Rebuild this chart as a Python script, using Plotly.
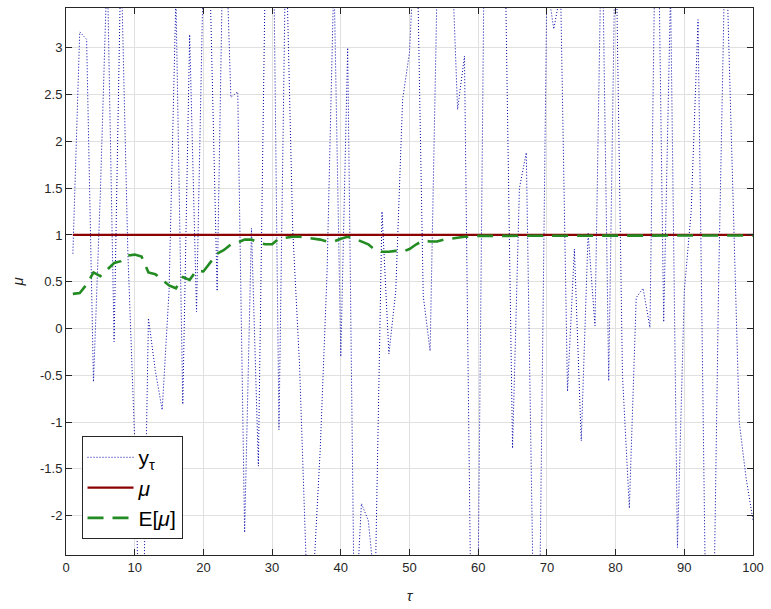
import plotly.graph_objects as go

tau = list(range(1, 101))

y_obs = [
    0.8, 3.17, 3.09, -0.57, 1.45, 3.9, -0.14, 4.0, 0.82, -1.2,
    -4.2, 0.11, -0.45, -0.87, 0.4, 3.55, -0.81, 3.14, 0.18, 3.9,
    3.6, 0.4, 4.8, 2.47, 2.53, -2.18, 1.07, -1.47, 3.8, 5.5,
    -1.08, 4.2, 1.06, -0.4, -2.6, -2.7, -1.3, 0.6, 3.8, -0.3,
    3.0, -3.3, -1.87, -2.05, -2.8, 1.25, -0.27, 0.4, 2.45, 2.95,
    4.5, 0.35, -0.24, 3.6, 4.6, 4.3, 2.34, 2.91, -3.4, -2.6,
    5.0, 4.5, 4.0, 3.6, -1.28, 1.5, 1.88, -2.8, -2.6, 3.7,
    3.2, 3.6, -0.67, 0.85, -1.2, 1.02, 0.03, 4.5, -0.56, 4.4,
    -0.5, -1.92, 0.33, 0.43, 0.01, 5.5, 0.07, 3.6, -2.34, 0.4,
    1.25, 3.3, -2.38, -4.5, 0.5, 4.3, 1.6, -1.0, -1.6, -2.05,
]

mu_true = [1.0] * 100

e_mu = [
    0.37, 0.38, 0.47, 0.6, 0.56, 0.63, 0.7, 0.72, 0.78, 0.79,
    0.77, 0.6, 0.58, 0.52, 0.46, 0.43, 0.55, 0.52, 0.62, 0.61,
    0.7, 0.8, 0.84, 0.9, 0.92, 0.95, 0.95, 0.92, 0.9, 0.9,
    0.96, 0.97, 0.98, 0.98, 0.97, 0.96, 0.95, 0.93, 0.93, 0.96,
    0.98, 0.96, 0.93, 0.9, 0.84, 0.82, 0.82, 0.83, 0.82, 0.85,
    0.9, 0.94, 0.93, 0.93, 0.95, 0.96, 0.97, 0.98, 0.98, 0.99,
    0.99, 0.99, 0.99, 0.99, 0.99, 0.99, 0.99, 0.99, 0.99, 0.995,
    0.995, 0.995, 0.995, 0.995, 0.995, 0.995, 0.995, 0.995, 0.995, 0.995,
    0.995, 0.995, 0.995, 0.995, 0.995, 0.995, 0.995, 0.995, 0.995, 0.995,
    0.995, 0.995, 0.995, 0.995, 0.995, 0.995, 0.995, 0.995, 0.995, 0.995,
]

x_ticks = list(range(0, 101, 10))
x_ticktext = [str(v) for v in x_ticks]
y_ticks = [-2, -1.5, -1, -0.5, 0, 0.5, 1, 1.5, 2, 2.5, 3]
y_ticktext = ["-2", "-1.5", "-1", "-0.5", "0", "0.5", "1", "1.5", "2", "2.5", "3"]

AX = "#262626"
GRID = "#e0e0e0"
FONT = "Liberation Sans, Arial, Helvetica, sans-serif"

fig = go.Figure()
fig.add_trace(go.Scatter(
    x=tau, y=y_obs, mode="lines", name="y<sub>τ</sub>",
    line=dict(color="#0000a8", width=1, dash="1px,2px"),
))
fig.add_trace(go.Scatter(
    x=tau, y=mu_true, mode="lines", name="<i>μ</i>",
    line=dict(color="#8b0000", width=2.2),
))
fig.add_trace(go.Scatter(
    x=tau, y=e_mu, mode="lines", name="E[<i>μ</i>]",
    line=dict(color="#228b22", width=2.6, dash="16px,9px"),
))

fig.update_layout(
    width=771, height=609,
    margin=dict(l=66, r=10, t=7, b=54),
    paper_bgcolor="white", plot_bgcolor="white",
    font=dict(family=FONT, color=AX, size=13),
    showlegend=True,
    legend=dict(
        x=0.0226, y=0.029, xanchor="left", yanchor="bottom",
        bgcolor="white", bordercolor=AX, borderwidth=1,
        font=dict(size=21, color="black", family=FONT),
        tracegroupgap=0, itemwidth=46,
    ),
    xaxis=dict(
        range=[0, 100], tickvals=x_ticks, ticktext=x_ticktext,
        ticks="inside", ticklen=6, tickcolor=AX, mirror="allticks",
        showline=True, linecolor=AX, linewidth=1,
        showgrid=True, gridcolor=GRID, zeroline=False,
        tickfont=dict(size=13, color=AX), ticklabeloverflow="allow",
        title=dict(text="<i>τ</i>", font=dict(size=15, color=AX), standoff=16),
    ),
    yaxis=dict(
        range=[-2.42, 3.425], tickvals=y_ticks, ticktext=y_ticktext,
        ticks="inside", ticklen=6, tickcolor=AX, mirror="allticks",
        showline=True, linecolor=AX, linewidth=1,
        showgrid=True, gridcolor=GRID, zeroline=False,
        tickfont=dict(size=13, color=AX),
        title=dict(text="<i>μ</i>", font=dict(size=15, color=AX), standoff=12),
    ),
)

fig.write_html("out.html")
